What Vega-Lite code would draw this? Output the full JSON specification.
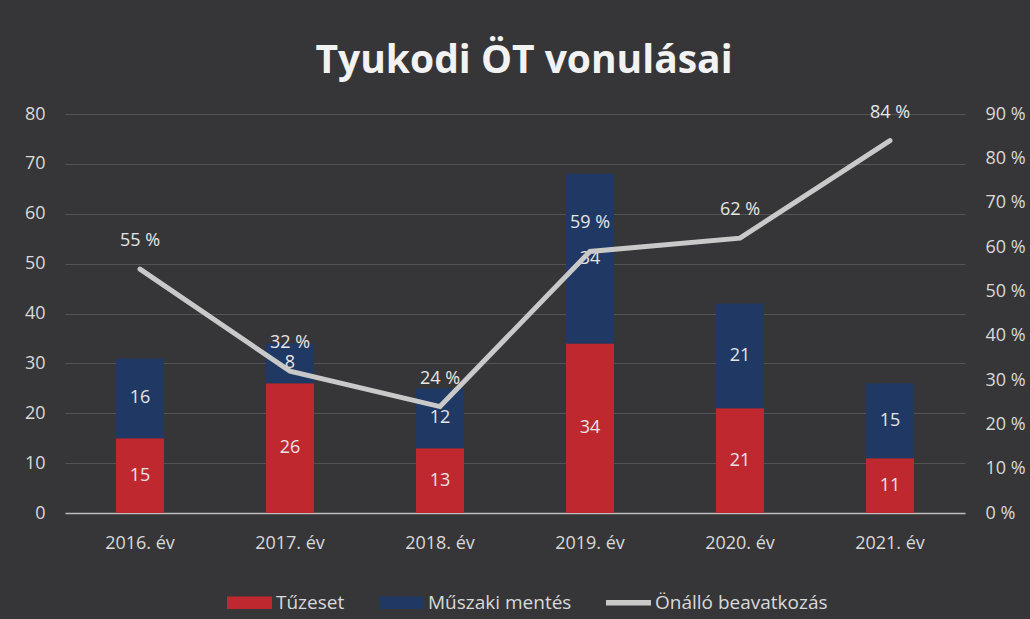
{
  "$schema": "https://vega.github.io/schema/vega-lite/v6.json",
  "autosize": "none",
  "width": 900,
  "height": 399,
  "padding": {"left": 65, "top": 114, "right": 65, "bottom": 106},
  "background": "#363638",
  "config": {
    "font": "Open Sans",
    "view": {"stroke": null},
    "axis": {"labelColor": "#d9d9d9", "labelFontSize": 18, "labelFont": "Open Sans", "ticks": false, "titleColor": "#d9d9d9"}
  },
  "title": {"text": "Tyukodi ÖT vonulásai", "fontSize": 39, "fontWeight": "bold", "color": "#f2f2f2", "font": "Open Sans", "anchor": "middle", "offset": 23, "dx": 9},
  "datasets": {
    "bars": [
      {"year": "2016. év", "series": "Tűzeset", "value": 15, "ord": 1},
      {"year": "2016. év", "series": "Műszaki mentés", "value": 16, "ord": 2},
      {"year": "2017. év", "series": "Tűzeset", "value": 26, "ord": 1},
      {"year": "2017. év", "series": "Műszaki mentés", "value": 8, "ord": 2},
      {"year": "2018. év", "series": "Tűzeset", "value": 13, "ord": 1},
      {"year": "2018. év", "series": "Műszaki mentés", "value": 12, "ord": 2},
      {"year": "2019. év", "series": "Tűzeset", "value": 34, "ord": 1},
      {"year": "2019. év", "series": "Műszaki mentés", "value": 34, "ord": 2},
      {"year": "2020. év", "series": "Tűzeset", "value": 21, "ord": 1},
      {"year": "2020. év", "series": "Műszaki mentés", "value": 21, "ord": 2},
      {"year": "2021. év", "series": "Tűzeset", "value": 11, "ord": 1},
      {"year": "2021. év", "series": "Műszaki mentés", "value": 15, "ord": 2}
    ],
    "line": [
      {"year": "2016. év", "pct": 55, "label": "55 %"},
      {"year": "2017. év", "pct": 32, "label": "32 %"},
      {"year": "2018. év", "pct": 24, "label": "24 %"},
      {"year": "2019. év", "pct": 59, "label": "59 %"},
      {"year": "2020. év", "pct": 62, "label": "62 %"},
      {"year": "2021. év", "pct": 84, "label": "84 %"}
    ]
  },
  "encoding": {
    "x": {"field": "year", "type": "nominal", "sort": null,
      "scale": {"paddingInner": 0.68, "paddingOuter": 0.34},
      "axis": {"title": null, "labelAngle": 0, "labelPadding": 21, "domainColor": "#bdbdbd", "domainWidth": 1.5, "grid": false}}
  },
  "layer": [
    {
      "data": {"name": "bars"},
      "transform": [
        {"stack": "value", "groupby": ["year"], "sort": [{"field": "ord", "order": "ascending"}], "as": ["v0", "v1"]},
        {"calculate": "(datum.v0 + datum.v1) / 2", "as": "mid"}
      ],
      "layer": [
        {
          "mark": {"type": "bar"},
          "encoding": {
            "y": {"field": "v0", "type": "quantitative",
              "scale": {"domain": [0, 80]},
              "axis": {"title": null, "orient": "left", "values": [0,10,20,30,40,50,60,70,80], "labelPadding": 20, "domain": false, "grid": true, "gridColor": "#535356", "gridWidth": 1}},
            "y2": {"field": "v1"},
            "color": {"field": "series", "type": "nominal",
              "scale": {"domain": ["Tűzeset", "Műszaki mentés", "Önálló beavatkozás"], "range": ["#c0282f", "#1f3864", "#c9c9c9"]},
              "legend": {
                "title": null, "orient": "none", "direction": "horizontal",
                "legendX": 162, "legendY": 466,
                "labelColor": "#d9d9d9", "labelFontSize": 19, "labelFont": "Open Sans",
                "labelOffset": 4, "columnPadding": 34, "labelLimit": 400,
                "symbolSize": 2025, "symbolType": "M-1,-0.28H1V0.28H-1Z",
                "symbolStrokeWidth": 0,
                "encode": {
                  "symbols": {
                    "update": {
                      "shape": {"signal": "datum.value === 'Önálló beavatkozás' ? 'M-1,-0.12 H1 V0.12 H-1Z' : 'M-1,-0.28H1V0.28H-1Z'"},
                      "fill": {"signal": "scale('color', datum.value)"},
                      "strokeWidth": {"value": 0},
                      "opacity": {"value": 1}
                    }
                  }
                }
              }}
          }
        },
        {
          "mark": {"type": "text", "color": "#e6e6e6", "fontSize": 18, "font": "Open Sans"},
          "encoding": {
            "y": {"field": "mid", "type": "quantitative"},
            "text": {"field": "value", "type": "quantitative"}
          }
        }
      ]
    },
    {
      "data": {"name": "line"},
      "encoding": {
        "y": {"field": "pct", "type": "quantitative",
          "scale": {"domain": [0, 90]},
          "axis": {"title": null, "orient": "right", "values": [0,10,20,30,40,50,60,70,80,90], "labelExpr": "datum.value + ' %'", "labelPadding": 20, "domain": false, "grid": false}}
      },
      "layer": [
        {
          "mark": {"type": "line", "strokeWidth": 5, "strokeCap": "round", "strokeJoin": "miter"},
          "encoding": {"color": {"datum": "Önálló beavatkozás"}}
        },
        {
          "mark": {"type": "text", "color": "#e6e6e6", "fontSize": 18, "font": "Open Sans", "dy": -28},
          "encoding": {"text": {"field": "label", "type": "nominal"}}
        }
      ]
    }
  ],
  "resolve": {"scale": {"y": "independent"}}
}
